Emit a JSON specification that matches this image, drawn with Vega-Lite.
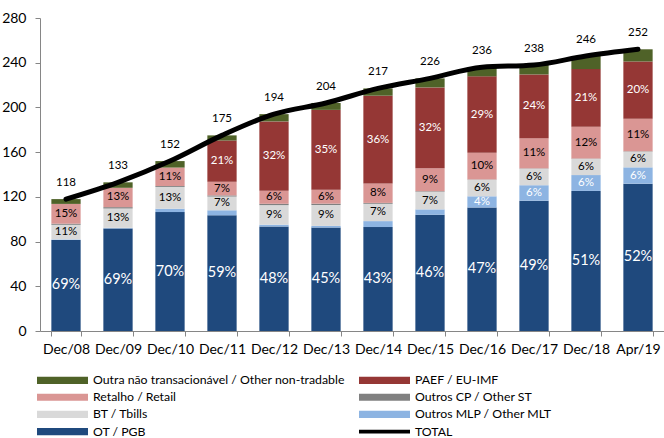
{
  "$schema": "https://vega.github.io/schema/vega-lite/v6.json",
  "width": 624,
  "height": 313,
  "autosize": {"type": "none"},
  "padding": {"left": 40, "top": 18, "right": 0, "bottom": 107},
  "background": "white",
  "config": {
    "view": {"stroke": null},
    "font": "Lato",
    "axis": {"labelFont": "Lato", "domainColor": "#868686", "tickColor": "#868686", "grid": false, "labelColor": "#000000", "title": null}
  },
  "datasets": {
    "seg": [
      {"d":"Dec/08","s":"OT / PGB","v":81.5,"l":"69%","k":1},
      {"d":"Dec/08","s":"Outros MLP / Other MLT","v":0.5,"l":"","k":2},
      {"d":"Dec/08","s":"BT / Tbills","v":13,"l":"11%","k":3},
      {"d":"Dec/08","s":"Outros CP / Other ST","v":1,"l":"","k":4},
      {"d":"Dec/08","s":"Retalho / Retail","v":17.7,"l":"15%","k":5},
      {"d":"Dec/08","s":"PAEF / EU-IMF","v":0,"l":"","k":6},
      {"d":"Dec/08","s":"Outra não transacionável / Other non-tradable","v":4.3,"l":"","k":7},
      {"d":"Dec/09","s":"OT / PGB","v":91.8,"l":"69%","k":1},
      {"d":"Dec/09","s":"Outros MLP / Other MLT","v":0.5,"l":"","k":2},
      {"d":"Dec/09","s":"BT / Tbills","v":17.3,"l":"13%","k":3},
      {"d":"Dec/09","s":"Outros CP / Other ST","v":1.2,"l":"","k":4},
      {"d":"Dec/09","s":"Retalho / Retail","v":17.3,"l":"13%","k":5},
      {"d":"Dec/09","s":"PAEF / EU-IMF","v":0,"l":"","k":6},
      {"d":"Dec/09","s":"Outra não transacionável / Other non-tradable","v":4.9,"l":"","k":7},
      {"d":"Dec/10","s":"OT / PGB","v":106.4,"l":"70%","k":1},
      {"d":"Dec/10","s":"Outros MLP / Other MLT","v":3,"l":"","k":2},
      {"d":"Dec/10","s":"BT / Tbills","v":19.5,"l":"13%","k":3},
      {"d":"Dec/10","s":"Outros CP / Other ST","v":0.8,"l":"","k":4},
      {"d":"Dec/10","s":"Retalho / Retail","v":16.5,"l":"11%","k":5},
      {"d":"Dec/10","s":"PAEF / EU-IMF","v":0,"l":"","k":6},
      {"d":"Dec/10","s":"Outra não transacionável / Other non-tradable","v":5.8,"l":"","k":7},
      {"d":"Dec/11","s":"OT / PGB","v":103.5,"l":"59%","k":1},
      {"d":"Dec/11","s":"Outros MLP / Other MLT","v":4.5,"l":"","k":2},
      {"d":"Dec/11","s":"BT / Tbills","v":12.3,"l":"7%","k":3},
      {"d":"Dec/11","s":"Outros CP / Other ST","v":1,"l":"","k":4},
      {"d":"Dec/11","s":"Retalho / Retail","v":12.3,"l":"7%","k":5},
      {"d":"Dec/11","s":"PAEF / EU-IMF","v":36.8,"l":"21%","k":6},
      {"d":"Dec/11","s":"Outra não transacionável / Other non-tradable","v":4.6,"l":"","k":7},
      {"d":"Dec/12","s":"OT / PGB","v":93.5,"l":"48%","k":1},
      {"d":"Dec/12","s":"Outros MLP / Other MLT","v":1.6,"l":"","k":2},
      {"d":"Dec/12","s":"BT / Tbills","v":17.5,"l":"9%","k":3},
      {"d":"Dec/12","s":"Outros CP / Other ST","v":1.2,"l":"","k":4},
      {"d":"Dec/12","s":"Retalho / Retail","v":11.6,"l":"6%","k":5},
      {"d":"Dec/12","s":"PAEF / EU-IMF","v":62.1,"l":"32%","k":6},
      {"d":"Dec/12","s":"Outra não transacionável / Other non-tradable","v":6.5,"l":"","k":7},
      {"d":"Dec/13","s":"OT / PGB","v":92.5,"l":"45%","k":1},
      {"d":"Dec/13","s":"Outros MLP / Other MLT","v":1.5,"l":"","k":2},
      {"d":"Dec/13","s":"BT / Tbills","v":18.7,"l":"9%","k":3},
      {"d":"Dec/13","s":"Outros CP / Other ST","v":1.2,"l":"","k":4},
      {"d":"Dec/13","s":"Retalho / Retail","v":12.5,"l":"6%","k":5},
      {"d":"Dec/13","s":"PAEF / EU-IMF","v":71.4,"l":"35%","k":6},
      {"d":"Dec/13","s":"Outra não transacionável / Other non-tradable","v":6.2,"l":"","k":7},
      {"d":"Dec/14","s":"OT / PGB","v":93,"l":"43%","k":1},
      {"d":"Dec/14","s":"Outros MLP / Other MLT","v":5.3,"l":"","k":2},
      {"d":"Dec/14","s":"BT / Tbills","v":15.5,"l":"7%","k":3},
      {"d":"Dec/14","s":"Outros CP / Other ST","v":0.8,"l":"","k":4},
      {"d":"Dec/14","s":"Retalho / Retail","v":17.4,"l":"8%","k":5},
      {"d":"Dec/14","s":"PAEF / EU-IMF","v":78.5,"l":"36%","k":6},
      {"d":"Dec/14","s":"Outra não transacionável / Other non-tradable","v":6.5,"l":"","k":7},
      {"d":"Dec/15","s":"OT / PGB","v":104,"l":"46%","k":1},
      {"d":"Dec/15","s":"Outros MLP / Other MLT","v":4.8,"l":"","k":2},
      {"d":"Dec/15","s":"BT / Tbills","v":15.8,"l":"7%","k":3},
      {"d":"Dec/15","s":"Outros CP / Other ST","v":0.5,"l":"","k":4},
      {"d":"Dec/15","s":"Retalho / Retail","v":20.5,"l":"9%","k":5},
      {"d":"Dec/15","s":"PAEF / EU-IMF","v":72.3,"l":"32%","k":6},
      {"d":"Dec/15","s":"Outra não transacionável / Other non-tradable","v":8.1,"l":"","k":7},
      {"d":"Dec/16","s":"OT / PGB","v":110.5,"l":"47%","k":1},
      {"d":"Dec/16","s":"Outros MLP / Other MLT","v":10,"l":"4%","k":2},
      {"d":"Dec/16","s":"BT / Tbills","v":14.8,"l":"6%","k":3},
      {"d":"Dec/16","s":"Outros CP / Other ST","v":0.3,"l":"","k":4},
      {"d":"Dec/16","s":"Retalho / Retail","v":23.8,"l":"10%","k":5},
      {"d":"Dec/16","s":"PAEF / EU-IMF","v":68.4,"l":"29%","k":6},
      {"d":"Dec/16","s":"Outra não transacionável / Other non-tradable","v":8.2,"l":"","k":7},
      {"d":"Dec/17","s":"OT / PGB","v":116.6,"l":"49%","k":1},
      {"d":"Dec/17","s":"Outros MLP / Other MLT","v":13.8,"l":"6%","k":2},
      {"d":"Dec/17","s":"BT / Tbills","v":14.8,"l":"6%","k":3},
      {"d":"Dec/17","s":"Outros CP / Other ST","v":0.3,"l":"","k":4},
      {"d":"Dec/17","s":"Retalho / Retail","v":27,"l":"11%","k":5},
      {"d":"Dec/17","s":"PAEF / EU-IMF","v":57,"l":"24%","k":6},
      {"d":"Dec/17","s":"Outra não transacionável / Other non-tradable","v":8.5,"l":"","k":7},
      {"d":"Dec/18","s":"OT / PGB","v":125.3,"l":"51%","k":1},
      {"d":"Dec/18","s":"Outros MLP / Other MLT","v":14.2,"l":"6%","k":2},
      {"d":"Dec/18","s":"BT / Tbills","v":14.5,"l":"6%","k":3},
      {"d":"Dec/18","s":"Outros CP / Other ST","v":0.3,"l":"","k":4},
      {"d":"Dec/18","s":"Retalho / Retail","v":28.5,"l":"12%","k":5},
      {"d":"Dec/18","s":"PAEF / EU-IMF","v":51.5,"l":"21%","k":6},
      {"d":"Dec/18","s":"Outra não transacionável / Other non-tradable","v":11.7,"l":"","k":7},
      {"d":"Apr/19","s":"OT / PGB","v":131.8,"l":"52%","k":1},
      {"d":"Apr/19","s":"Outros MLP / Other MLT","v":14.6,"l":"6%","k":2},
      {"d":"Apr/19","s":"BT / Tbills","v":14.2,"l":"6%","k":3},
      {"d":"Apr/19","s":"Outros CP / Other ST","v":0.3,"l":"","k":4},
      {"d":"Apr/19","s":"Retalho / Retail","v":29,"l":"11%","k":5},
      {"d":"Apr/19","s":"PAEF / EU-IMF","v":51.2,"l":"20%","k":6},
      {"d":"Apr/19","s":"Outra não transacionável / Other non-tradable","v":10.9,"l":"","k":7}
    ],
    "tot": [
      {"d":"Dec/08","t":118},
      {"d":"Dec/09","t":133},
      {"d":"Dec/10","t":152},
      {"d":"Dec/11","t":175},
      {"d":"Dec/12","t":194},
      {"d":"Dec/13","t":204},
      {"d":"Dec/14","t":217},
      {"d":"Dec/15","t":226},
      {"d":"Dec/16","t":236},
      {"d":"Dec/17","t":238},
      {"d":"Dec/18","t":246},
      {"d":"Apr/19","t":252}
    ]
  },
  "encoding": {
    "x": {
      "field": "d", "type": "nominal", "sort": null,
      "scale": {"paddingInner": 0.437, "paddingOuter": 0.2185},
      "axis": {"labelAngle": 0, "labelFontSize": 14, "tickBand": "extent", "tickSize": 5, "labelPadding": 6}
    }
  },
  "layer": [
    {
      "data": {"name": "seg"},
      "mark": {"type": "bar"},
      "encoding": {
        "y": {
          "field": "v", "type": "quantitative", "stack": "zero",
          "scale": {"domain": [0, 280], "nice": false},
          "axis": {"values": [0, 40, 80, 120, 160, 200, 240, 280], "labelFontSize": 14, "tickSize": 5, "labelPadding": 9}
        },
        "order": {"field": "k", "type": "quantitative", "sort": "ascending"},
        "color": {
          "field": "s", "type": "nominal",
          "scale": {
            "domain": ["Outra não transacionável / Other non-tradable", "PAEF / EU-IMF", "Retalho / Retail", "Outros CP / Other ST", "BT / Tbills", "Outros MLP / Other MLT", "OT / PGB", "TOTAL"],
            "range": ["#4F6228", "#953735", "#DA9694", "#808080", "#D9D9D9", "#8DB4E2", "#1F497D", "#000000"]
          },
          "legend": {
            "title": null, "orient": "none", "legendX": -3, "legendY": 356, "columns": 2, "direction": "horizontal",
            "symbolType": "M-1,-0.14H1V0.14H-1Z", "symbolSize": 2601, "symbolStrokeWidth": 0,
            "clipHeight": 12,
            "labelFont": "Lato", "labelFontSize": 12.3, "labelColor": "#000000", "labelLimit": 400,
            "rowPadding": 4.2, "columnPadding": 14, "labelOffset": 5,
            "encode": {"symbols": {"update": {"shape": {"signal": "datum.value === 'TOTAL' ? 'M-1,-0.07H1V0.07H-1Z' : 'M-1,-0.14H1V0.14H-1Z'"}}}}
          }
        }
      }
    },
    {
      "data": {"name": "seg"},
      "transform": [
        {"stack": "v", "groupby": ["d"], "sort": [{"field": "k", "order": "ascending"}], "as": ["v0", "v1"]},
        {"calculate": "(datum.v0 + datum.v1) / 2", "as": "m"}
      ],
      "mark": {"type": "text", "font": "Lato", "baseline": "middle"},
      "encoding": {
        "y": {"field": "m", "type": "quantitative"},
        "text": {"field": "l"},
        "color": {"condition": {"test": "datum.k == 1 || datum.k == 2 || datum.k == 6", "value": "#FFFFFF"}, "value": "#000000"},
        "size": {"condition": {"test": "datum.k == 1", "value": 14.5}, "value": 11.5}
      }
    },
    {
      "data": {"name": "tot"},
      "mark": {"type": "line", "color": "#000000", "strokeWidth": 5, "interpolate": "monotone", "strokeCap": "round"},
      "encoding": {
        "y": {"field": "t", "type": "quantitative"}
      }
    },
    {
      "data": {"name": "tot"},
      "mark": {"type": "text", "font": "Lato", "fontSize": 11.5, "dy": -16, "color": "#000000"},
      "encoding": {
        "y": {"field": "t", "type": "quantitative"},
        "text": {"field": "t"}
      }
    }
  ]
}
